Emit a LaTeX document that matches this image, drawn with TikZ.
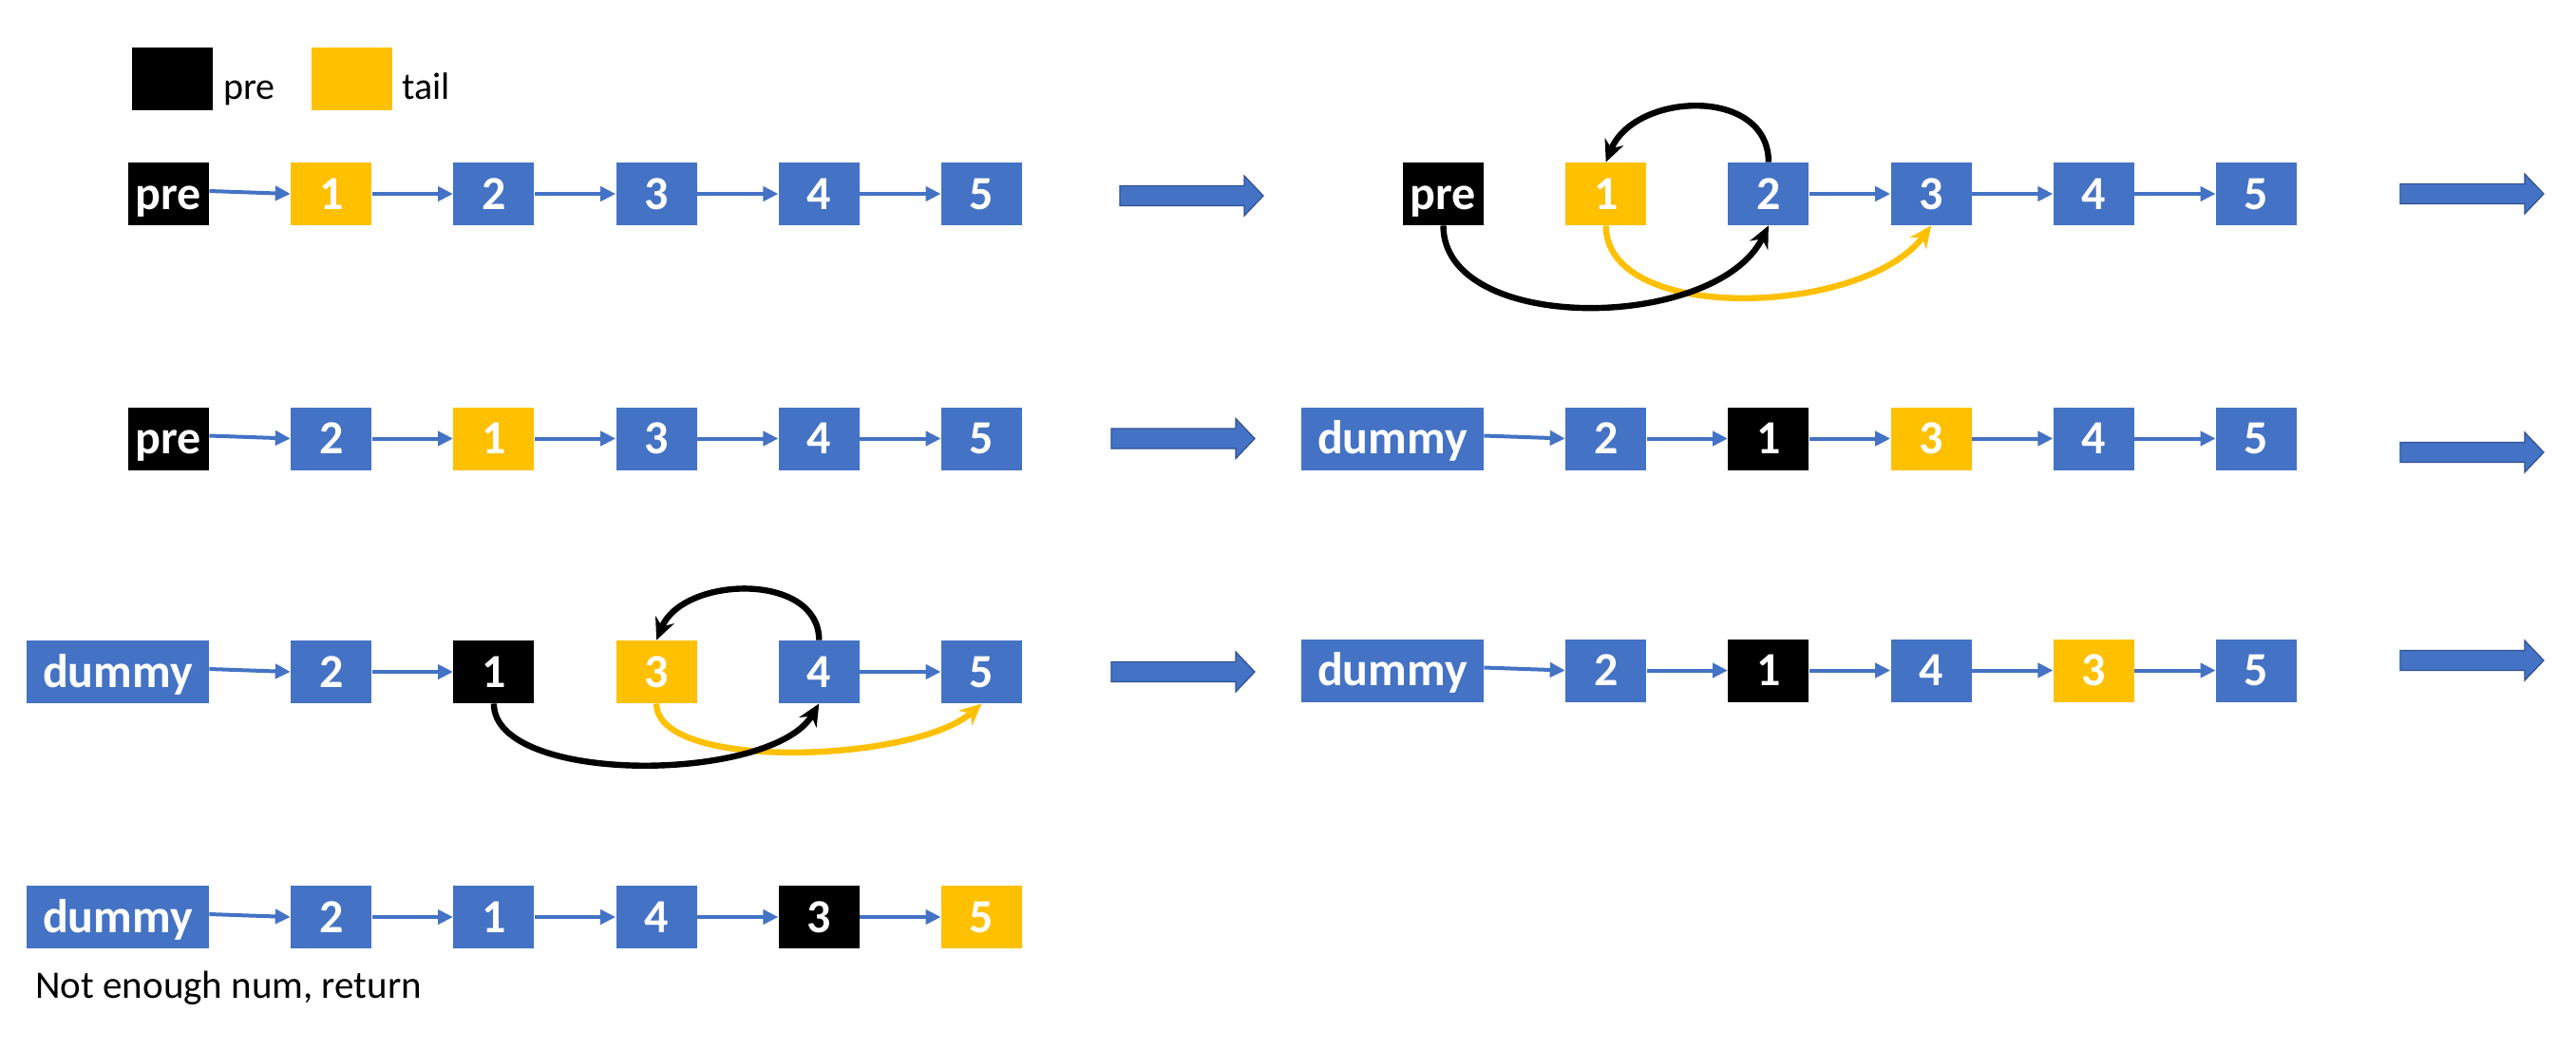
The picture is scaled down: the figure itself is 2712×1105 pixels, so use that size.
\documentclass[tikz,border=0pt]{standalone}
\usepackage{fontspec}
\setmainfont{Carlito}
\usetikzlibrary{arrows.meta}
\definecolor{nodeblue}{HTML}{4472C4}
\definecolor{tailyellow}{HTML}{FFC000}
\definecolor{arrowedge}{HTML}{2F528F}
\newcommand{\stepArrow}[2]{%
  \path[bigarrow] (#1,#2-10.5) -- (#1+131,#2-10.5) -- (#1+131,#2-21) -- (#1+151,#2)
    -- (#1+131,#2+21) -- (#1+131,#2+10.5) -- (#1,#2+10.5) -- cycle;}
\begin{document}
\begin{tikzpicture}[x=0.5pt,y=-0.5pt,
  box/.style={minimum width=42.5pt, minimum height=33pt, inner sep=0pt, text=white,
    font=\bfseries\fontsize{25}{30}\selectfont, text height=16pt, text depth=0pt},
  bluebox/.style={box, fill=nodeblue},
  prebox/.style={box, fill=black},
  tailbox/.style={box, fill=tailyellow},
  widebox/.style={box, fill=nodeblue, minimum width=96pt},
  link/.style={draw=nodeblue, line width=2pt, -{Triangle[length=8pt,width=7.5pt]}},
  swapblack/.style={draw=black, line width=3.2pt, -{Stealth[length=11.5pt,width=10.5pt]}},
  swapyellow/.style={draw=tailyellow, line width=3.2pt, -{Stealth[length=11.5pt,width=10.5pt]}},
  bigarrow/.style={fill=nodeblue, draw=arrowedge, line width=0.6pt},
  legendtext/.style={font=\fontsize{20}{24}\selectfont, anchor=base west, inner sep=0pt},
]
\useasboundingbox (0,0) rectangle (2712,1105);

% legend
\node[prebox] (legpre) at (181.5,83) {};
\node[legendtext] (legpretext) at (235,104) {pre};
\node[tailbox] (legtail) at (370.5,83) {};
\node[legendtext] (legtailtext) at (423,104) {tail};

% row 1 left
\node[prebox]  (a0) at (177.5,204) {pre};
\node[tailbox] (a1) at (348.7,204) {1};
\node[bluebox] (a2) at (519.9,204) {2};
\node[bluebox] (a3) at (691.1,204) {3};
\node[bluebox] (a4) at (862.3,204) {4};
\node[bluebox] (a5) at (1033.5,204) {5};
\draw[link] ([yshift=1.5pt]a0.east) -- (a1.west);
\draw[link] (a1) -- (a2);
\draw[link] (a2) -- (a3);
\draw[link] (a3) -- (a4);
\draw[link] (a4) -- (a5);

% row 1 right
\node[prebox]  (b0) at (1519.5,204) {pre};
\node[tailbox] (b1) at (1690.7,204) {1};
\node[bluebox] (b2) at (1861.9,204) {2};
\node[bluebox] (b3) at (2033.1,204) {3};
\node[bluebox] (b4) at (2204.3,204) {4};
\node[bluebox] (b5) at (2375.5,204) {5};
\draw[link] (b2) -- (b3);
\draw[link] (b3) -- (b4);
\draw[link] (b4) -- (b5);
\draw[swapblack] (b2.north) .. controls +(0,-80) and +(30,-74) .. (b1.north);
\draw[swapyellow] (b1.south) .. controls +(0,105) and +(-70,95) .. (b3.south);
\draw[swapblack] (b0.south) .. controls +(0,115) and +(-55,112) .. (b2.south);

% row 2 left
\node[prebox]  (c0) at (177.5,461.5) {pre};
\node[bluebox] (c1) at (348.7,461.5) {2};
\node[tailbox] (c2) at (519.9,461.5) {1};
\node[bluebox] (c3) at (691.1,461.5) {3};
\node[bluebox] (c4) at (862.3,461.5) {4};
\node[bluebox] (c5) at (1033.5,461.5) {5};
\draw[link] ([yshift=1.5pt]c0.east) -- (c1.west);
\draw[link] (c1) -- (c2);
\draw[link] (c2) -- (c3);
\draw[link] (c3) -- (c4);
\draw[link] (c4) -- (c5);

% row 2 right
\node[widebox] (d0) at (1466,461.5) {dummy};
\node[bluebox] (d1) at (1690.7,461.5) {2};
\node[prebox]  (d2) at (1861.9,461.5) {1};
\node[tailbox] (d3) at (2033.1,461.5) {3};
\node[bluebox] (d4) at (2204.3,461.5) {4};
\node[bluebox] (d5) at (2375.5,461.5) {5};
\draw[link] ([yshift=1.5pt]d0.east) -- (d1.west);
\draw[link] (d1) -- (d2);
\draw[link] (d2) -- (d3);
\draw[link] (d3) -- (d4);
\draw[link] (d4) -- (d5);

% row 3 left
\node[widebox] (e0) at (124,707) {dummy};
\node[bluebox] (e1) at (348.7,707) {2};
\node[prebox]  (e2) at (519.9,707) {1};
\node[tailbox] (e3) at (691.1,707) {3};
\node[bluebox] (e4) at (862.3,707) {4};
\node[bluebox] (e5) at (1033.5,707) {5};
\draw[link] ([yshift=1.5pt]e0.east) -- (e1.west);
\draw[link] (e1) -- (e2);
\draw[link] (e4) -- (e5);
\draw[swapblack] (e4.north) .. controls +(0,-72) and +(28,-68) .. (e3.north);
\draw[swapyellow] (e3.south) .. controls +(0,72) and +(-70,62) .. (e5.south);
\draw[swapblack] (e2.south) .. controls +(0,86) and +(-50,84) .. (e4.south);

% row 3 right
\node[widebox] (f0) at (1466,705.5) {dummy};
\node[bluebox] (f1) at (1690.7,705.5) {2};
\node[prebox]  (f2) at (1861.9,705.5) {1};
\node[bluebox] (f3) at (2033.1,705.5) {4};
\node[tailbox] (f4) at (2204.3,705.5) {3};
\node[bluebox] (f5) at (2375.5,705.5) {5};
\draw[link] ([yshift=1.5pt]f0.east) -- (f1.west);
\draw[link] (f1) -- (f2);
\draw[link] (f2) -- (f3);
\draw[link] (f3) -- (f4);
\draw[link] (f4) -- (f5);

% row 4
\node[widebox] (g0) at (124,965) {dummy};
\node[bluebox] (g1) at (348.7,965) {2};
\node[bluebox] (g2) at (519.9,965) {1};
\node[bluebox] (g3) at (691.1,965) {4};
\node[prebox]  (g4) at (862.3,965) {3};
\node[tailbox] (g5) at (1033.5,965) {5};
\draw[link] ([yshift=1.5pt]g0.east) -- (g1.west);
\draw[link] (g1) -- (g2);
\draw[link] (g2) -- (g3);
\draw[link] (g3) -- (g4);
\draw[link] (g4) -- (g5);
\node[legendtext, font=\fontsize{20.5}{24}\selectfont] (note) at (37,1050) {Not enough num, return};

% step arrows
\stepArrow{1179}{206}
\stepArrow{2527}{204}
\stepArrow{1170}{461.5}
\stepArrow{2527}{476}
\stepArrow{1170}{707}
\stepArrow{2527}{695}
\end{tikzpicture}
\end{document}
